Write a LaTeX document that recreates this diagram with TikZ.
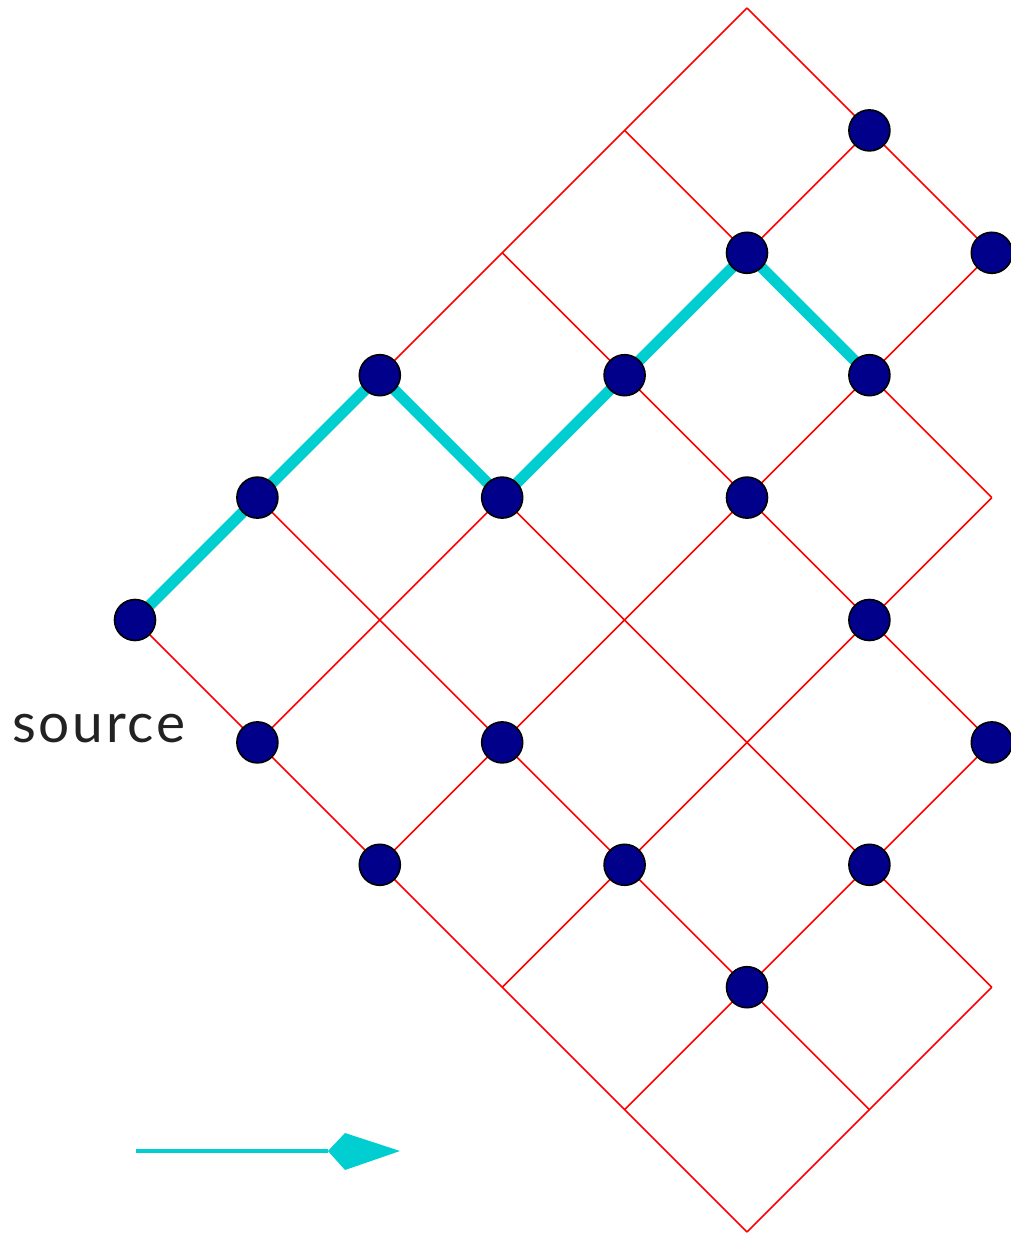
\documentclass[tikz,border=0pt]{standalone}
\usepackage{fontspec}
\newfontfamily\srcfont[LetterSpace=5]{Lato}
\usetikzlibrary{backgrounds}
\definecolor{navyblue}{RGB}{0,0,139}
\definecolor{pathcyan}{RGB}{0,206,209}
\definecolor{textgray}{RGB}{34,34,34}
\tikzset{
  site/.style={circle, draw=black, line width=1.6pt, fill=navyblue, minimum size=41pt, inner sep=0pt},
  gridline/.style={draw=red, line width=1.6pt},
  walk/.style={draw=pathcyan, line width=11pt, line join=miter},
  legendline/.style={draw=pathcyan, line width=4pt},
}
\def\u{122.4}
\begin{document}
\begin{tikzpicture}[x=1pt,y=1pt]
\useasboundingbox (-135,-614) rectangle (876,620);
% sites
\foreach \i/\j in {0/0, 1/1, 2/2, 3/1, 4/2, 5/3, 6/4, 7/3, 6/2, 5/1, 6/0, 7/-1,
                   1/-1, 2/-2, 3/-1, 4/-2, 5/-3, 6/-2}
  \node[site] (n\i\j) at (\i*\u,\j*\u) {};
\begin{scope}[on background layer]
% lattice grid lines
\foreach \a/\b/\c/\d in {0/0/5/-5, 1/1/6/-4, 2/2/7/-3, 3/3/7/-1, 4/4/7/1, 5/5/7/3,
                         0/0/5/5, 1/-1/6/4, 2/-2/7/3, 3/-3/7/1, 4/-4/7/-1, 5/-5/7/-3}
  \draw[gridline] (\a*\u,\b*\u) -- (\c*\u,\d*\u);
% walk
\draw[walk] (n00.center) -- (n11.center) -- (n22.center) -- (n31.center) -- (n42.center) -- (n53.center) -- (n62.center);
\end{scope}
% label
\node[anchor=base, text=textgray, font=\srcfont\fontsize{55}{60}\selectfont, inner sep=0pt] (src) at (-36,-122) {source};
% legend arrow
\coordinate (a0) at (1,-531);
\coordinate (a1) at (193,-531);
\draw[legendline] (a0) -- (a1);
\fill[pathcyan] (a1) -- ++(17,18) -- ++(55,-18) -- ++(-55,-19) -- cycle;
\end{tikzpicture}
\end{document}
